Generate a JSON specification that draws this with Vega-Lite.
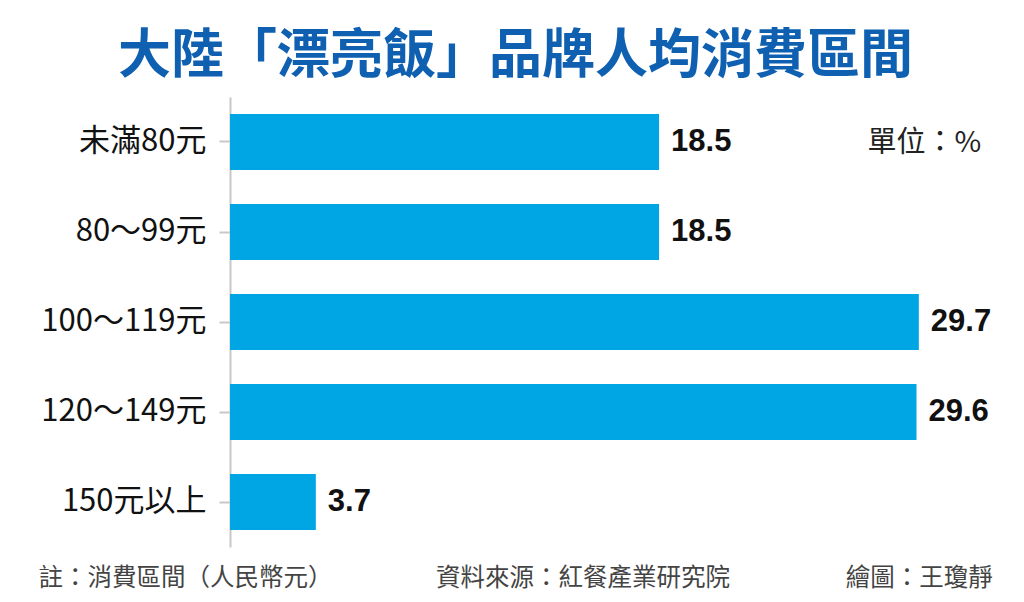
{
  "$schema": "https://vega.github.io/schema/vega-lite/v6.json",
  "autosize": {"type": "none"},
  "width": 770,
  "height": 450,
  "padding": {"left": 230, "top": 97, "right": 24, "bottom": 55},
  "background": "white",
  "title": {
    "text": "大陸「漂亮飯」品牌人均消費區間",
    "font": "Noto Sans CJK TC",
    "fontSize": 53,
    "fontWeight": "bold",
    "color": "#1060b2",
    "anchor": "start",
    "frame": "group",
    "dx": -112,
    "dy": 52,
    "baseline": "alphabetic",
    "offset": 23
  },
  "data": {
    "values": [
      {"range": "未滿80元", "pct": 18.5},
      {"range": "80～99元", "pct": 18.5},
      {"range": "100～119元", "pct": 29.7},
      {"range": "120～149元", "pct": 29.6},
      {"range": "150元以上", "pct": 3.7}
    ]
  },
  "encoding": {
    "y": {
      "field": "range",
      "type": "nominal",
      "sort": null,
      "scale": {"paddingInner": 0.38, "paddingOuter": 0.19},
      "axis": {
        "title": "單位：%",
        "titleFont": "Noto Sans CJK TC",
        "titleFontSize": 29,
        "titleFontWeight": "normal",
        "titleColor": "#222222",
        "titleAngle": 0,
        "titleX": 637,
        "titleY": 45,
        "titleAlign": "left",
        "titleBaseline": "middle",
        "labelFont": "Noto Sans CJK TC",
        "labelFontSize": 31,
        "labelColor": "#111111",
        "labelPadding": 13,
        "domainColor": "#c8c8c8",
        "domainWidth": 2,
        "tickColor": "#c8c8c8",
        "tickSize": 11,
        "tickWidth": 2,
        "grid": false
      }
    },
    "x": {
      "field": "pct",
      "type": "quantitative",
      "scale": {"domain": [0, 33.2], "nice": false},
      "axis": {
        "title": "註：消費區間（人民幣元）　　　　 \u2002資料來源：紅餐產業研究院　　　　\u2002 繪圖：王瓊靜",
        "titleFont": "Noto Sans CJK TC",
        "titleFontSize": 24.5,
        "titleFontWeight": "normal",
        "titleColor": "#444444",
        "titleX": -192,
        "titleY": 31,
        "titleAlign": "left",
        "titleBaseline": "middle",
        "domain": false,
        "ticks": false,
        "labels": false,
        "grid": false
      }
    }
  },
  "layer": [
    {"mark": {"type": "bar", "color": "#00a5e3"}},
    {
      "mark": {
        "type": "text",
        "align": "left",
        "baseline": "middle",
        "dx": 12,
        "font": "Liberation Sans",
        "fontSize": 31,
        "fontWeight": "bold",
        "color": "#111111"
      },
      "encoding": {"text": {"field": "pct", "type": "quantitative", "format": ".1f"}}
    }
  ],
  "config": {"view": {"stroke": null}}
}
